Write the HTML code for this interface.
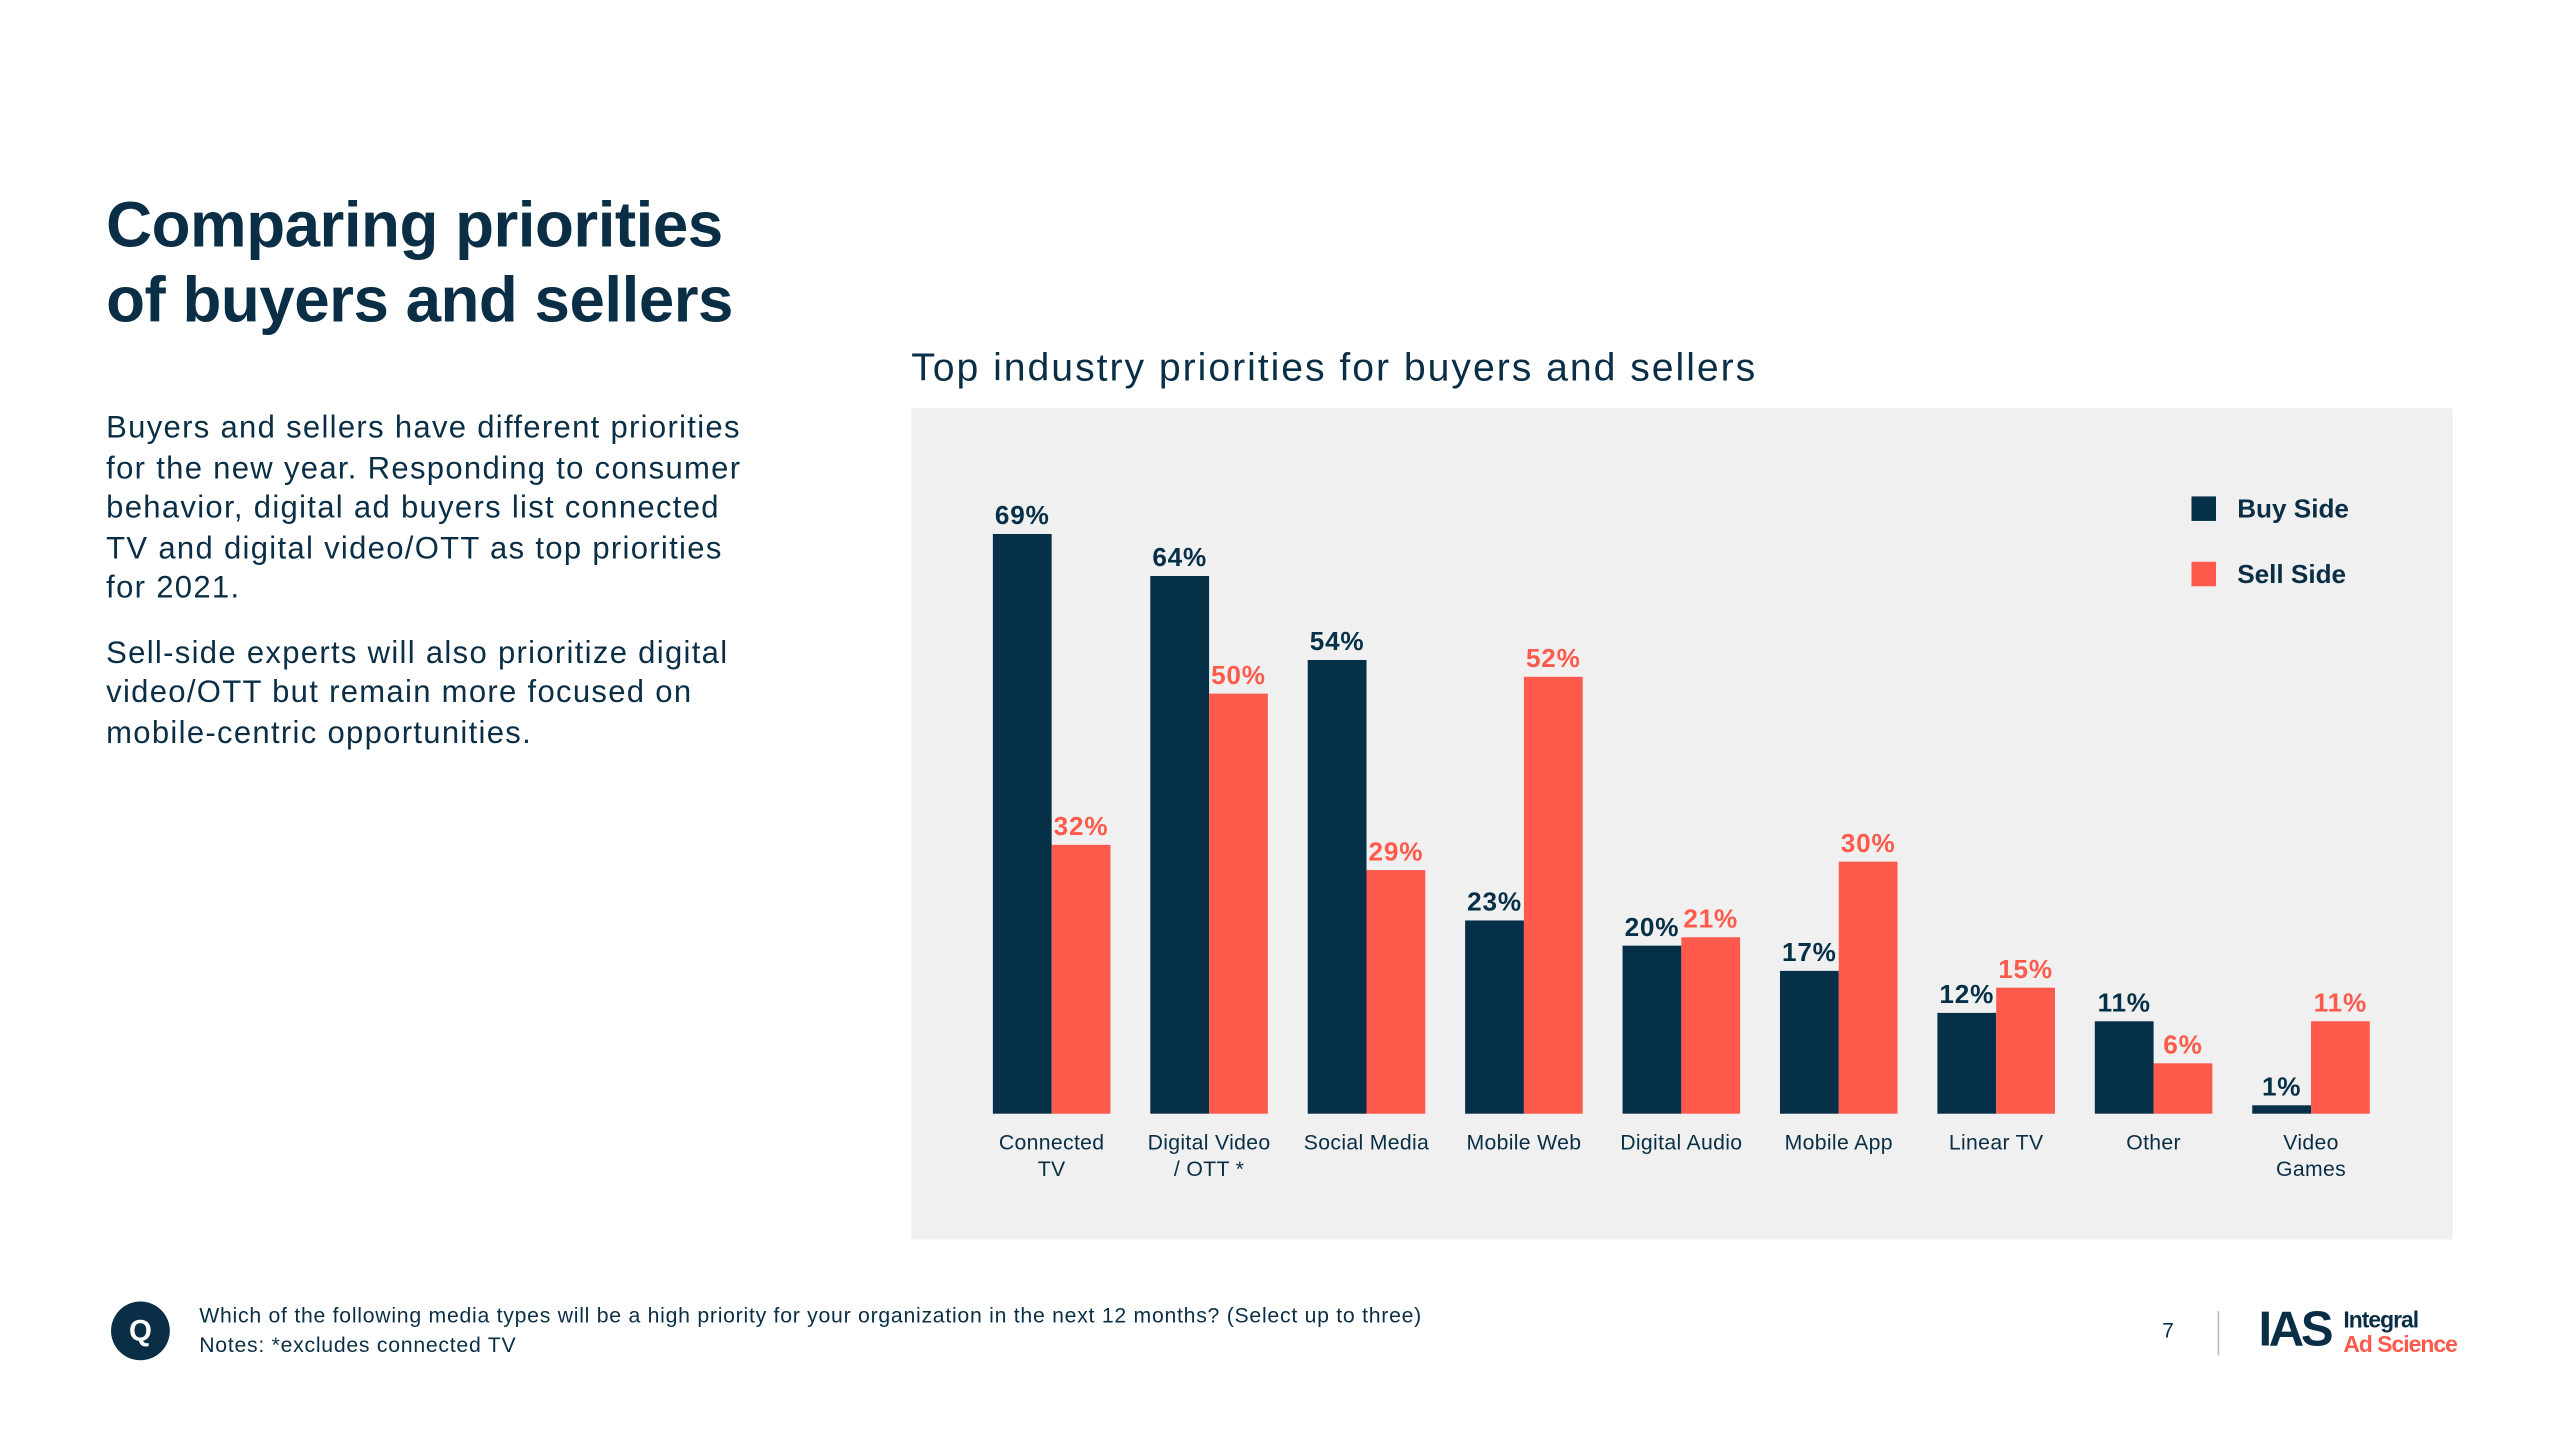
<!DOCTYPE html>
<html><head><meta charset="utf-8"><style>
html,body{margin:0;padding:0;background:#fff;}
body{width:2560px;height:1440px;overflow:hidden;font-family:"Liberation Sans",sans-serif;}
#wrap{position:absolute;left:0;top:0;width:1568px;height:882px;transform:scale(1.633);transform-origin:0 0;color:#0a2e45;}
.abs{position:absolute;}
h1{position:absolute;left:65px;top:116px;margin:0;font-size:39px;line-height:46px;font-weight:bold;color:#0a2e45;letter-spacing:-0.3px;}
p{margin:0 0 15px 0;}
#body{left:65px;top:251px;width:400px;font-size:19px;line-height:24.5px;letter-spacing:0.8px;color:#0a2e45;}
#ctitle{left:558px;top:212px;font-size:24px;letter-spacing:1.2px;}
#panel{left:558px;top:250px;width:944px;height:509px;background:#eff0ef;}
</style></head><body>
<div id="wrap">
<h1>Comparing priorities<br>of buyers and sellers</h1>
<div id="body" class="abs">
<p>Buyers and sellers have different priorities for the new year. Responding to consumer behavior, digital ad buyers list connected TV and digital video/OTT as top priorities for 2021.</p>
<p>Sell-side experts will also prioritize digital video/OTT but remain more focused on mobile-centric opportunities.</p>
</div>
<div id="ctitle" class="abs">Top industry priorities for buyers and sellers</div>
<div id="panel" class="abs"></div>
<svg id="chart" class="abs" style="left:0;top:0" width="1568" height="882"></svg>
<div class="abs" style="left:68px;top:797px;width:36px;height:36px;border-radius:50%;background:#0a2e45;color:#fff;font-weight:bold;font-size:18px;line-height:36px;text-align:center;">Q</div>
<div class="abs" style="left:122px;top:797px;font-size:13px;line-height:18px;letter-spacing:0.45px;color:#0a2e45;">Which of the following media types will be a high priority for your organization in the next 12 months? (Select up to three)<br>Notes: *excludes connected TV</div>
<div class="abs" style="left:1324px;top:807px;font-size:13px;color:#0a2e45;">7</div>
<div class="abs" style="left:1358px;top:803px;width:1px;height:27px;background:#bbb;"></div>
<div class="abs" style="left:1383px;top:798px;font-size:30px;font-weight:bold;letter-spacing:-2px;color:#0a2e45;line-height:34px;">IAS</div>
<div class="abs" style="left:1435px;top:801px;font-size:14px;font-weight:bold;line-height:15px;letter-spacing:-0.6px;"><span style="color:#0a2e45">Integral</span><br><span style="color:#ff5a4b">Ad Science</span></div>
</div>
<script>
const categories=["Connected|TV","Digital Video|/ OTT *","Social Media","Mobile Web","Digital Audio","Mobile App","Linear TV","Other","Video|Games"];
const buyValues=[69,64,54,23,20,17,12,11,1];
const sellValues=[32,50,29,52,21,30,15,6,11];
const seriesNames=["Buy Side","Sell Side"];
const NAVY="#062f48",RED="#ff5a4b";
const svg=document.getElementById('chart');
const NS="http://www.w3.org/2000/svg";
const base=682,pxPer=5.145,x0=644,step=96.4,bw=36;
function y(v){return base-v*pxPer;}
function xc(i){return x0+i*step;}
function mk(t,a){const e=document.createElementNS(NS,t);for(const k in a)e.setAttribute(k,a[k]);svg.appendChild(e);return e;}
categories.forEach((c,i)=>{
  [[buyValues,NAVY,-bw,"buy"],[sellValues,RED,0,"sell"]].forEach(([arr,col,off,s])=>{
    const v=arr[i];
    const r=mk('rect',{x:xc(i)+off,y:y(v),width:bw,height:v*pxPer,fill:col});
    
    
    const t=mk('text',{x:xc(i)+off+bw/2,y:y(v)-6,'text-anchor':'middle','font-size':16,'font-weight':'bold','letter-spacing':0.5,fill:col,'font-family':'Liberation Sans, sans-serif'});
    t.textContent=v+'%';
    
    
  });
  c.split('|').forEach((ln,j)=>{
    const t=mk('text',{x:xc(i),y:704+j*16,'text-anchor':'middle','font-size':13,'letter-spacing':0.2,fill:'#0a2e45','font-family':'Liberation Sans, sans-serif'});
    t.textContent=ln;
    
    
  });
});
seriesNames.forEach((n,k)=>{
  const r=mk('rect',{x:1342,y:304+k*40,width:15,height:15,fill:k?RED:NAVY});
  
  
  const t=mk('text',{x:1370,y:317+k*40,'font-size':16,'font-weight':'bold',fill:'#0a2e45','font-family':'Liberation Sans, sans-serif'});
  t.textContent=n;
  
  
});
</script>
</body></html>
